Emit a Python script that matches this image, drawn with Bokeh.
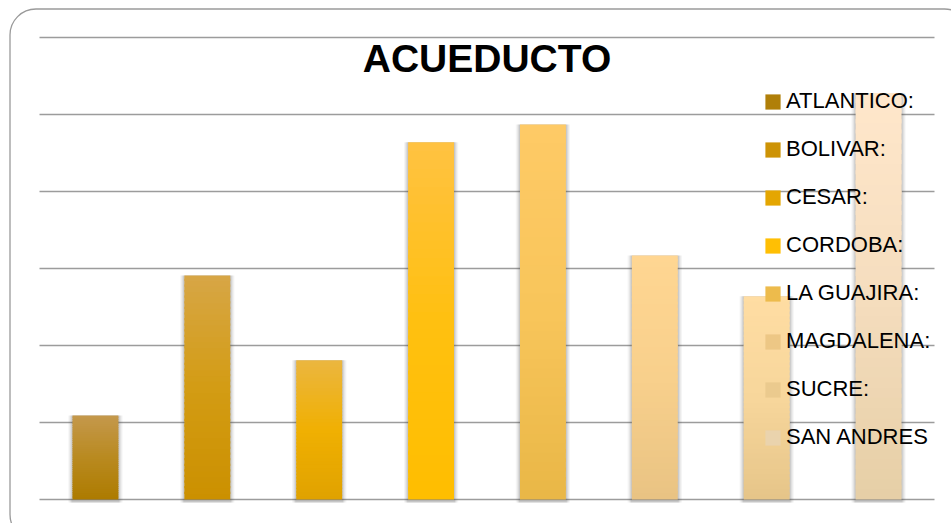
import numpy as np
from bokeh.plotting import figure
from bokeh.models import (ColumnDataSource, Range1d, Legend, LegendItem, Label,
                          BoxAnnotation)
from bokeh.embed import file_html
from bokeh.resources import INLINE

# ---- data ----
categories = ["ATLANTICO:", "BOLIVAR:", "CESAR:", "CORDOBA:", "LA GUAJIRA:",
              "MAGDALENA:", "SUCRE:", "SAN ANDRES"]
values = [1.09, 2.91, 1.81, 4.64, 4.87, 3.17, 2.64, 5.28]
y_ticks = [0, 1, 2, 3, 4, 5, 6]
title_text = "ACUEDUCTO"

# gradient colours per bar (top, middle, bottom)
top_colors = ["#C4984C", "#D7A646", "#EBB640", "#FFC242", "#FECA66",
              "#FFD692", "#FFDDA3", "#FFE7CB"]
mid_colors = ["#B98A20", "#D39C14", "#F0B002", "#FFC010", "#F8C55A",
              "#F8D08C", "#F7D69B", "#F5DDBE"]
bot_colors = ["#AD7B00", "#CB9000", "#E0A200", "#FFBE00", "#E9B747",
              "#E9C383", "#E6C589", "#E6CFA6"]


def hex2rgb(h):
    h = h.lstrip("#")
    return tuple(int(h[i:i + 2], 16) for i in (0, 2, 4))


def mix(a, b, t):
    ra, rb = hex2rgb(a), hex2rgb(b)
    return "#%02x%02x%02x" % tuple(round(ra[j] + (rb[j] - ra[j]) * t) for j in range(3))


def grad(i, t):
    if t < 0.5:
        return mix(bot_colors[i], mid_colors[i], t / 0.5)
    return mix(mid_colors[i], top_colors[i], (t - 0.5) / 0.5)


n_cat = len(categories)
xpos = np.arange(n_cat) + 0.5          # category centres on the x scale

N = 40
xs, bots, tops, cols = [], [], [], []
for i, v in enumerate(values):
    for k in range(N):
        xs.append(xpos[i])
        bots.append(v * k / N)
        tops.append(min(v, v * (k + 1.4) / N))
        cols.append(grad(i, (k + 0.5) / N))
src = ColumnDataSource(dict(x=xs, bottom=bots, top=tops, color=cols))
shadow_src = ColumnDataSource(dict(x=xpos, top=values))

W, H = 951, 523
PX_X = 111.875     # pixels per category
PX_Y = 77.0        # pixels per unit
X0, Y0 = 39, 499   # pixel position of the plot origin

p = figure(width=W, height=H, output_backend="svg", toolbar_location=None,
           x_range=Range1d(-X0 / PX_X, (W - X0) / PX_X),
           y_range=Range1d(-(H - Y0) / PX_Y, Y0 / PX_Y),
           min_border=0)
p.xaxis.visible = False
p.yaxis.visible = False
p.xgrid.grid_line_color = None
p.ygrid.grid_line_color = None
p.outline_line_color = None
p.background_fill_color = "white"
p.border_fill_color = "white"

# horizontal gridlines
p.segment(x0=0, x1=n_cat, y0=y_ticks, y1=y_ticks, line_color="#9c9c9c",
          line_width=1.5)

# soft shadows
bw = 0.41
for dw, a in [(0.075, 0.05), (0.055, 0.07), (0.035, 0.09), (0.018, 0.12)]:
    p.vbar(x="x", top="top", bottom=-0.04, width=bw + dw, source=shadow_src,
           fill_color="#404040", fill_alpha=a, line_color=None)

bars = p.vbar(x="x", top="top", bottom="bottom", width=bw, source=src,
              fill_color="color", line_color=None)

items = [LegendItem(label=c, renderers=[bars], index=i * N + N // 8)
         for i, c in enumerate(categories)]
legend = Legend(items=items, location=(763, 73),
                glyph_width=19, glyph_height=19, label_height=20,
                label_standoff=4, spacing=22, padding=0, margin=0,
                label_text_font="Liberation Sans", label_text_font_size="22px",
                label_text_color="#000000",
                background_fill_alpha=0, border_line_alpha=0)
p.add_layout(legend)

p.add_layout(Label(x=n_cat / 2, y=(Y0 - 57.5) / PX_Y, text=title_text,
                   text_align="center", text_baseline="alphabetic",
                   text_font="Liberation Sans", text_font_style="bold",
                   text_font_size="39px", text_color="#000000"))

# rounded chart border
p.add_layout(BoxAnnotation(left=(9.5 - X0) / PX_X, right=(970 - X0) / PX_X,
                           top=(Y0 - 8.5) / PX_Y, bottom=(Y0 - 540) / PX_Y,
                           fill_alpha=0, line_color="#9a9a9a", line_alpha=1.0,
                           line_width=1.3, border_radius=26, level="overlay"))

open("out.html", "w").write(file_html(p, INLINE))
